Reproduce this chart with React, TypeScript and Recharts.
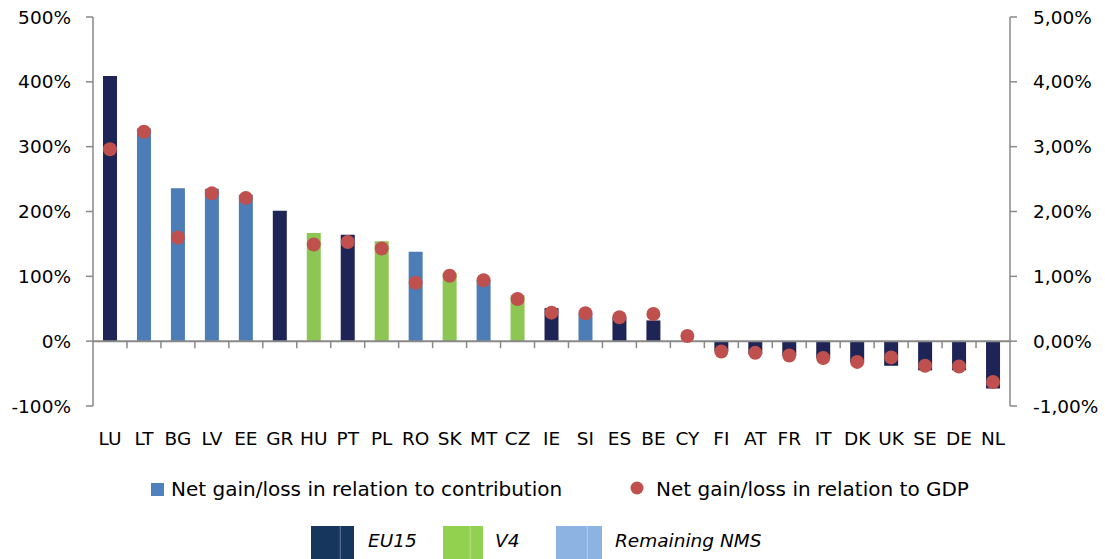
import React from 'react';
import { ComposedChart, Bar, Line, XAxis, YAxis, ReferenceLine, Cell } from 'recharts';

const countries = ['LU','LT','BG','LV','EE','GR','HU','PT','PL','RO','SK','MT','CZ','IE','SI','ES','BE','CY','FI','AT','FR','IT','DK','UK','SE','DE','NL'];
const contribution = [409, 328, 236, 235, 226, 201, 167, 164, 154, 138, 105, 94, 71, 51, 43, 37, 32, 0, -15, -20, -22, -26, -33, -38, -45, -45, -73];
const gdp = [2.96, 3.23, 1.60, 2.28, 2.21, null, 1.49, 1.53, 1.43, 0.90, 1.01, 0.94, 0.65, 0.44, 0.43, 0.37, 0.42, 0.08, -0.16, -0.18, -0.22, -0.26, -0.32, -0.25, -0.38, -0.39, -0.63];
const groups = ['EU15','NMS','NMS','NMS','NMS','EU15','V4','EU15','V4','NMS','V4','NMS','V4','EU15','NMS','EU15','EU15','NMS','EU15','EU15','EU15','EU15','EU15','EU15','EU15','EU15','EU15'];
const leftTicks = [-100, 0, 100, 200, 300, 400, 500];
const rightTicks = [-1, 0, 1, 2, 3, 4, 5];

const barColors: Record<string, string> = { EU15: '#1F2456', V4: '#8DC653', NMS: '#4D7DB6' };
const groupLegend = [
  { key: 'EU15', label: 'EU15', color: '#17365D' },
  { key: 'V4', label: 'V4', color: '#92D050' },
  { key: 'NMS', label: 'Remaining NMS', color: '#8DB3E2' },
];

const data = countries.map((c, i) => ({ name: c, contribution: contribution[i], gdp: gdp[i], group: groups[i] }));

const FONT = '"DejaVu Sans", sans-serif';
const AXIS = '#898989';

const XTick = (props: any) => {
  const { x, y, payload } = props;
  return (
    <text x={x} y={y + 39} textAnchor="middle" fontFamily={FONT} fontSize={18.5} fill="#000">
      {payload.value}
    </text>
  );
};

const ZeroAxis = (p: any) => {
  const { x1, y1, x2 } = p;
  const n = countries.length;
  const step = (x2 - x1) / n;
  const ticks = [];
  for (let i = 1; i < n; i++) {
    const tx = x1 + i * step;
    ticks.push(<line key={i} x1={tx} x2={tx} y1={y1} y2={y1 + 7} stroke={AXIS} strokeWidth={1.5} />);
  }
  return (
    <g>
      <line x1={x1} x2={x2} y1={y1} y2={y1} stroke={AXIS} strokeWidth={2} />
      {ticks}
    </g>
  );
};

export default function App() {
  return (
    <div style={{ position: 'absolute', left: 0, top: 0, width: 1105, height: 559, background: '#fff', overflow: 'hidden' }}>
      <ComposedChart width={1105} height={559} data={data} margin={{ top: 17, right: 15, bottom: 113, left: 13 }}>
        <XAxis dataKey="name" axisLine={false} tickLine={false} tickSize={0} tickMargin={0} height={40} tick={<XTick />} interval={0} />
        <YAxis
          yAxisId="left"
          domain={[-100, 500]}
          ticks={leftTicks}
          width={80}
          tickFormatter={(v: number) => `${v}%`}
          axisLine={{ stroke: AXIS, strokeWidth: 1.5 }}
          tickLine={{ stroke: AXIS, strokeWidth: 1.5 }}
          tickSize={7}
          tickMargin={15}
          tick={{ fontFamily: FONT, fontSize: 18.5, fill: '#000' }}
          interval={0}
        />
        <YAxis
          yAxisId="right"
          orientation="right"
          domain={[-1, 5]}
          ticks={rightTicks}
          width={80}
          tickFormatter={(v: number) => `${v.toFixed(2).replace('.', ',')}%`}
          axisLine={{ stroke: AXIS, strokeWidth: 1.5 }}
          tickLine={{ stroke: AXIS, strokeWidth: 1.5 }}
          tickSize={7}
          tickMargin={16}
          tick={{ fontFamily: FONT, fontSize: 18.5, fill: '#000' }}
          interval={0}
        />
        <Bar yAxisId="left" dataKey="contribution" barSize={14} isAnimationActive={false}>
          {data.map((d, i) => (
            <Cell key={i} fill={barColors[d.group]} />
          ))}
        </Bar>
        <ReferenceLine yAxisId="left" y={0} shape={ZeroAxis} />
        <Line
          yAxisId="right"
          dataKey="gdp"
          stroke="none"
          dot={{ r: 7, fill: '#C0504D', stroke: 'none' }}
          activeDot={false}
          isAnimationActive={false}
        />
      </ComposedChart>
      <svg width={1105} height={100} style={{ position: 'absolute', left: 0, top: 459 }}>
        <rect x={151} y={24} width={13} height={13} fill="#4F81BD" />
        <text x={171} y={37} fontFamily={FONT} fontSize={20} fill="#000">Net gain/loss in relation to contribution</text>
        <circle cx={637} cy={29} r={6.5} fill="#C0504D" />
        <text x={656} y={37} fontFamily={FONT} fontSize={20} fill="#000">Net gain/loss in relation to GDP</text>
        {groupLegend.map((g, i) => {
          const xs = [311, 443, 556][i];
          const ws = [43, 40, 46][i];
          const tx = [368, 495, 615][i];
          return (
            <g key={g.key}>
              <rect x={xs} y={67} width={ws} height={40} fill={g.color} />
              <line x1={xs + ws * 0.68} x2={xs + ws * 0.68} y1={67} y2={107} stroke="#ffffff" strokeOpacity={0.35} strokeWidth={1} />
              <text x={tx} y={87.7} fontFamily={FONT} fontStyle="italic" fontSize={18.5} fill="#000">{g.label}</text>
            </g>
          );
        })}
      </svg>
    </div>
  );
}
